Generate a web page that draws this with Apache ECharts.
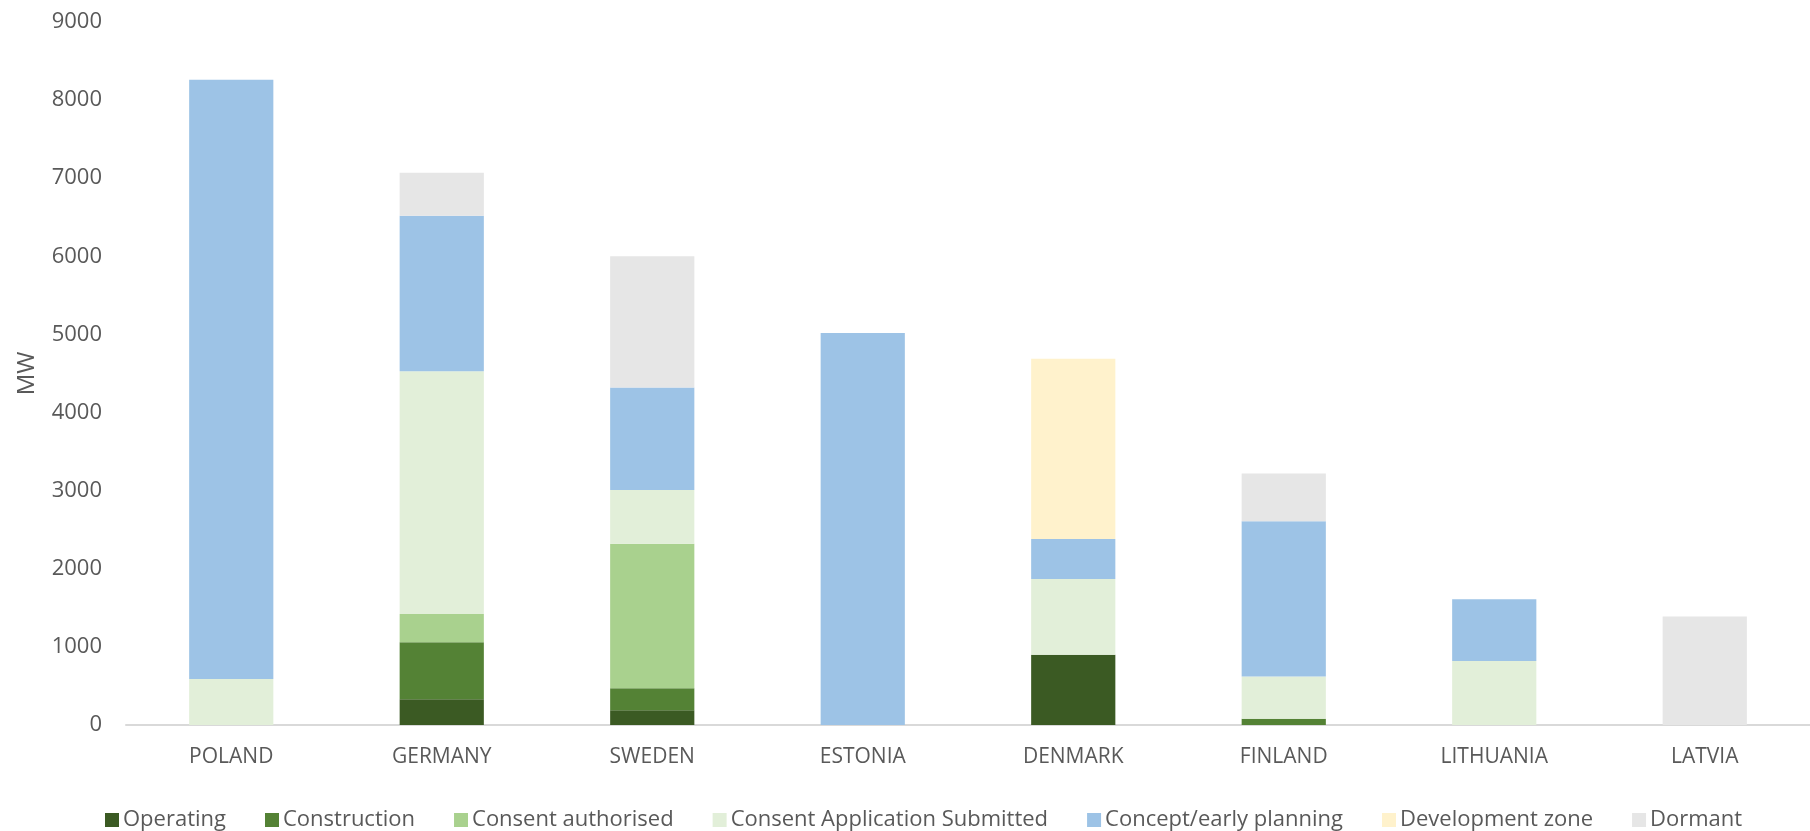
<!DOCTYPE html>
<html>
<head>
<meta charset="utf-8">
<style>
  html, body { margin: 0; padding: 0; background: #ffffff; }
  #chart { width: 1810px; height: 831px; }
</style>
<script src="https://cdn.jsdelivr.net/npm/echarts@6/dist/echarts.min.js"></script>
</head>
<body>
<div id="chart"></div>
<script>
// Offshore wind pipeline by country and project stage (MW)
const countries = ['POLAND', 'GERMANY', 'SWEDEN', 'ESTONIA', 'DENMARK', 'FINLAND', 'LITHUANIA', 'LATVIA'];

const operating        = [0,    330,  190,  0,    900,  0,    0,   0];
const construction     = [0,    730,  280,  0,    0,    80,   0,   0];
const consentAuth      = [0,    360,  1850, 0,    0,    0,    0,   0];
const consentSubmitted = [590,  3110, 690,  0,    970,  540,  820, 0];
const conceptPlanning  = [7670, 1990, 1310, 5020, 510,  1990, 790, 0];
const developmentZone  = [0,    0,    0,    0,    2310, 0,    0,   0];
const dormant          = [0,    550,  1680, 0,    0,    610,  0,   1390];

const yTicks = [0, 1000, 2000, 3000, 4000, 5000, 6000, 7000, 8000, 9000];

const stages = [
  { name: 'Operating',                     data: operating,        color: '#3b5a23' },
  { name: 'Construction',                  data: construction,     color: '#548235' },
  { name: 'Consent authorised',            data: consentAuth,      color: '#a9d18e' },
  { name: 'Consent Application Submitted', data: consentSubmitted, color: '#e2efd9' },
  { name: 'Concept/early planning',        data: conceptPlanning,  color: '#9dc3e6' },
  { name: 'Development zone',              data: developmentZone,  color: '#fff2cc' },
  { name: 'Dormant',                       data: dormant,          color: '#e6e6e6' }
];

const font = '"Open Sans", "Noto Sans", sans-serif';
const textColor = '#595959';

const chart = echarts.init(document.getElementById('chart'), null, { renderer: 'canvas' });

chart.setOption({
  animation: false,
  backgroundColor: '#ffffff',
  grid: { left: 126, right: -15, top: 22, bottom: 106, containLabel: false },
  legend: {
    left: 100,
    top: 804,
    itemWidth: 14,
    itemHeight: 14,
    itemGap: 39,
    icon: 'rect',
    textStyle: { fontFamily: font, fontSize: 22, color: textColor, padding: [0, 0, 0, -1] },
    data: stages.map(s => s.name)
  },
  xAxis: {
    type: 'category',
    data: countries,
    axisLine: { lineStyle: { color: '#d9d9d9', width: 2 } },
    axisTick: { show: false },
    axisLabel: { fontFamily: font, fontSize: 21, color: textColor, margin: 22 },
    splitLine: { show: false }
  },
  yAxis: {
    type: 'value',
    min: yTicks[0],
    max: yTicks[yTicks.length - 1],
    interval: yTicks[1] - yTicks[0],
    name: 'MW',
    nameLocation: 'middle',
    nameGap: 87,
    nameTextStyle: { fontFamily: font, fontSize: 24, color: textColor },
    axisLine: { show: false },
    axisTick: { show: false },
    splitLine: { show: false },
    axisLabel: {
      fontFamily: font, fontSize: 22, color: textColor, margin: 24,
      formatter: v => String(v)
    }
  },
  series: stages.map(s => ({
    name: s.name,
    type: 'bar',
    stack: 'total',
    barWidth: '40%',
    data: s.data,
    itemStyle: { color: s.color },
    emphasis: { disabled: true }
  }))
});
</script>
</body>
</html>
